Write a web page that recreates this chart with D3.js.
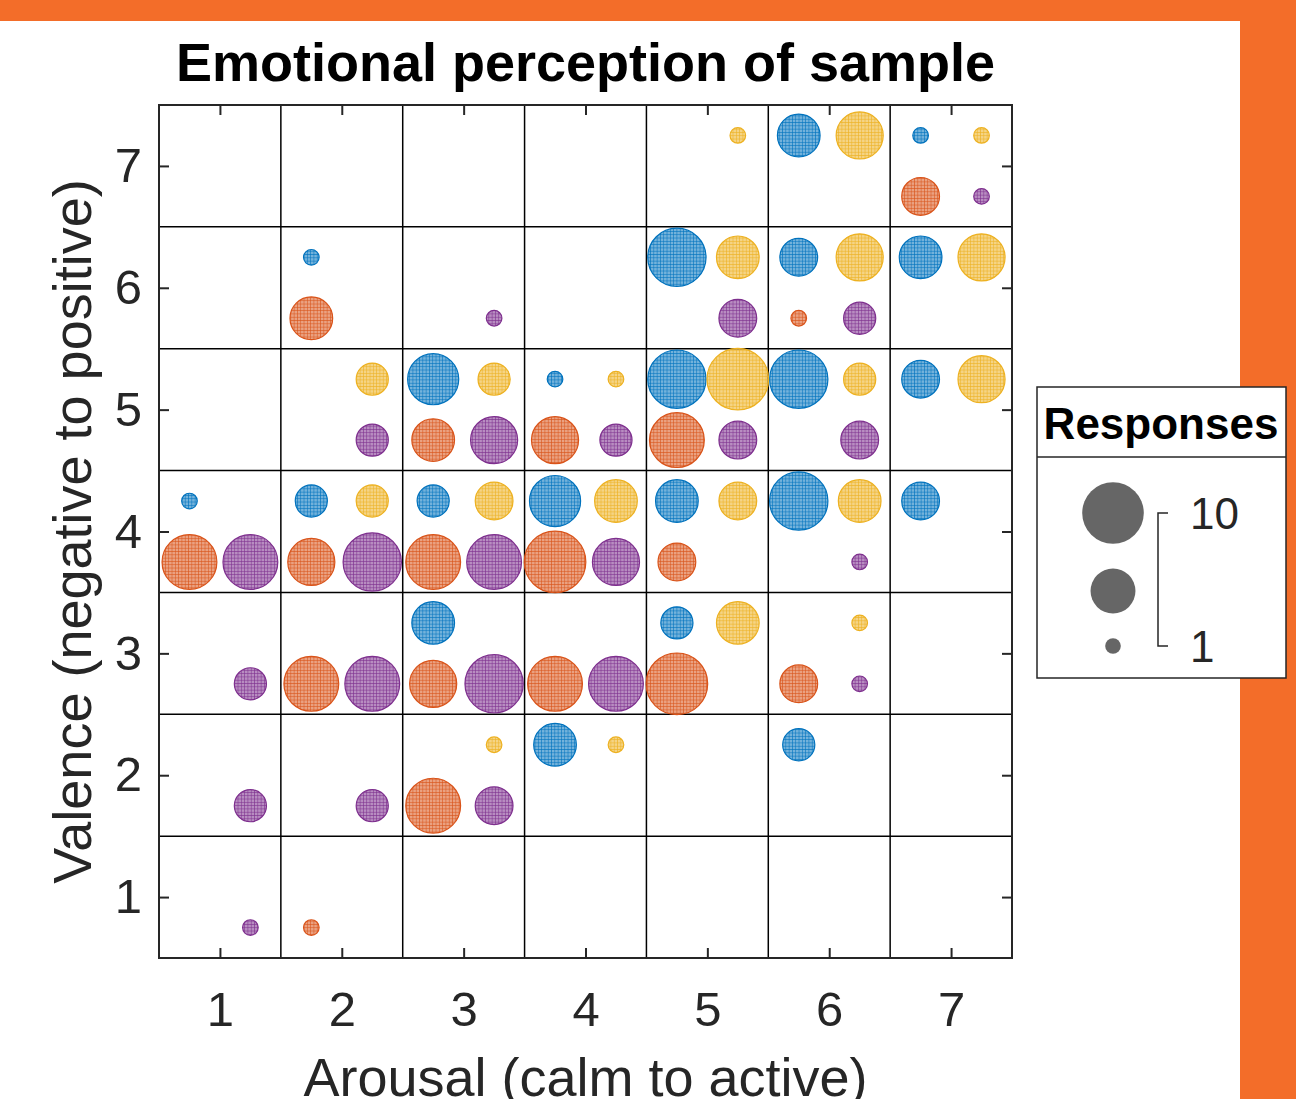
<!DOCTYPE html>
<html>
<head lang="en">
    <meta charset="UTF-8">
    <title>Emotional perception of sample</title>
    <script src="https://cdnjs.cloudflare.com/ajax/libs/d3/7.8.5/d3.min.js" charset="utf-8"></script>
</head>

<body style="margin: 0; background: white">
<div id="chart"></div>
<script>

// arousal / valence categories and tick labels
var arousalTicks = [1, 2, 3, 4, 5, 6, 7];
var valenceTicks = [1, 2, 3, 4, 5, 6, 7];

// each entry: [arousal, valence, responses]
var blueSeries = [
    [6, 7, 5], [7, 7, 1], [2, 6, 1], [5, 6, 9], [6, 6, 4], [7, 6, 5],
    [3, 5, 7], [4, 5, 1], [5, 5, 9], [6, 5, 9], [7, 5, 4],
    [1, 4, 1], [2, 4, 3], [3, 4, 3], [4, 4, 7], [5, 4, 5], [6, 4, 9], [7, 4, 4],
    [3, 3, 5], [5, 3, 3], [4, 2, 5], [6, 2, 3]
];
var yellowSeries = [
    [5, 7, 1], [6, 7, 6], [7, 7, 1], [5, 6, 5], [6, 6, 6], [7, 6, 6],
    [2, 5, 3], [3, 5, 3], [4, 5, 1], [5, 5, 10], [6, 5, 3], [7, 5, 6],
    [2, 4, 3], [3, 4, 4], [4, 4, 5], [5, 4, 4], [6, 4, 5],
    [5, 3, 5], [6, 3, 1], [3, 2, 1], [4, 2, 1]
];
var orangeSeries = [
    [7, 7, 4], [2, 6, 5], [6, 6, 1],
    [3, 5, 5], [4, 5, 6], [5, 5, 8],
    [1, 4, 8], [2, 4, 6], [3, 4, 8], [4, 4, 10], [5, 4, 4],
    [2, 3, 8], [3, 3, 6], [4, 3, 8], [5, 3, 10], [6, 3, 4],
    [3, 2, 8], [2, 1, 1]
];
var purpleSeries = [
    [7, 7, 1], [3, 6, 1], [5, 6, 4], [6, 6, 3],
    [2, 5, 3], [3, 5, 6], [4, 5, 3], [5, 5, 4], [6, 5, 4],
    [1, 4, 8], [2, 4, 9], [3, 4, 8], [4, 4, 6], [6, 4, 1],
    [1, 3, 3], [2, 3, 8], [3, 3, 9], [4, 3, 8], [6, 3, 1],
    [1, 2, 3], [2, 2, 3], [3, 2, 4], [1, 1, 1]
];
var legendValues = [10, 5.5, 1];
var legendLabels = ['10', '1'];

var series = [
    {name: 'blue', color: '#0072BD', dx: -0.25, dy: 0.25, data: blueSeries},
    {name: 'yellow', color: '#EDB120', dx: 0.25, dy: 0.25, data: yellowSeries},
    {name: 'orange', color: '#D95319', dx: -0.25, dy: -0.25, data: orangeSeries},
    {name: 'purple', color: '#7E2F8E', dx: 0.25, dy: -0.25, data: purpleSeries}
];

var W = 1296, H = 1099;
var plot = {left: 159, right: 1012, top: 105, bottom: 958};
var font = '"Liberation Sans", Arial, Helvetica, sans-serif';
var ink = '#262626';

var svg = d3.select('#chart').append('svg')
    .attr('width', W).attr('height', H)
    .style('display', 'block');

// orange frame
svg.append('rect').attr('x', 0).attr('y', 0).attr('width', W).attr('height', H).attr('fill', '#fff');
svg.append('rect').attr('x', 0).attr('y', 0).attr('width', W).attr('height', 21).attr('fill', '#F36D29');
svg.append('rect').attr('x', 1240).attr('y', 0).attr('width', W - 1240).attr('height', H).attr('fill', '#F36D29');

var x = d3.scaleLinear().domain([0.5, 7.5]).range([plot.left, plot.right]);
var y = d3.scaleLinear().domain([0.5, 7.5]).range([plot.bottom, plot.top]);
var r = d3.scaleRadial().domain([1, 10]).range([7.8, 30.8]);

// hatched fill patterns
var defs = svg.append('defs');
series.forEach(function (s) {
    var p = defs.append('pattern')
        .attr('id', 'pat-' + s.name)
        .attr('width', 3.3).attr('height', 3.3)
        .attr('patternUnits', 'userSpaceOnUse');
    p.append('rect').attr('width', 3.3).attr('height', 3.3)
        .attr('fill', s.color).attr('fill-opacity', 0.55);
    p.append('path').attr('d', 'M0 0.4H3.3M0.4 0V3.3')
        .attr('stroke', s.color).attr('stroke-width', 0.7).attr('stroke-opacity', 0.8);
});

// cell grid
var cuts = d3.range(1.5, 7, 1);
svg.append('g').selectAll('line.v').data(cuts).enter().append('line')
    .attr('x1', function (d) { return x(d); }).attr('x2', function (d) { return x(d); })
    .attr('y1', plot.top).attr('y2', plot.bottom)
    .attr('stroke', '#000').attr('stroke-width', 1.5);
svg.append('g').selectAll('line.h').data(cuts).enter().append('line')
    .attr('y1', function (d) { return y(d); }).attr('y2', function (d) { return y(d); })
    .attr('x1', plot.left).attr('x2', plot.right)
    .attr('stroke', '#000').attr('stroke-width', 1.5);

// bubbles
series.forEach(function (s) {
    svg.append('g').selectAll('circle').data(s.data).enter().append('circle')
        .attr('cx', function (d) { return x(d[0] + s.dx); })
        .attr('cy', function (d) { return y(d[1] + s.dy); })
        .attr('r', function (d) { return r(d[2]); })
        .attr('fill', 'url(#pat-' + s.name + ')')
        .attr('stroke', s.color).attr('stroke-width', 1.2);
});

// axes box with inward ticks
var tickLen = 10;
svg.append('rect')
    .attr('x', plot.left).attr('y', plot.top)
    .attr('width', plot.right - plot.left).attr('height', plot.bottom - plot.top)
    .attr('fill', 'none').attr('stroke', ink).attr('stroke-width', 2);

var fmt = d3.format('d');
var axB = d3.axisBottom(x).tickValues(arousalTicks).tickFormat(fmt).tickSizeInner(-tickLen).tickSizeOuter(0).tickPadding(33);
var axT = d3.axisTop(x).tickValues(arousalTicks).tickSizeInner(-tickLen).tickSizeOuter(0).tickFormat('');
var axL = d3.axisLeft(y).tickValues(valenceTicks).tickFormat(fmt).tickSizeInner(-tickLen).tickSizeOuter(0).tickPadding(17);
var axR = d3.axisRight(y).tickValues(valenceTicks).tickSizeInner(-tickLen).tickSizeOuter(0).tickFormat('');

function styleAxis(g) {
    g.select('.domain').remove();
    g.selectAll('.tick line').attr('stroke', ink).attr('stroke-width', 2);
    g.selectAll('.tick text').attr('fill', ink).style('font-family', font).style('font-size', '49px');
}
svg.append('g').attr('transform', 'translate(0,' + plot.bottom + ')').call(axB).call(styleAxis);
svg.append('g').attr('transform', 'translate(0,' + plot.top + ')').call(axT).call(styleAxis);
svg.append('g').attr('transform', 'translate(' + plot.left + ',0)').call(axL).call(styleAxis);
svg.append('g').attr('transform', 'translate(' + plot.right + ',0)').call(axR).call(styleAxis);

// title and labels
svg.append('text').attr('x', (plot.left + plot.right) / 2).attr('y', 81)
    .attr('text-anchor', 'middle').style('font-family', font).style('font-weight', 'bold')
    .style('font-size', '54px').attr('fill', '#000')
    .text('Emotional perception of sample');
svg.append('text').attr('x', (plot.left + plot.right) / 2).attr('y', 1096)
    .attr('text-anchor', 'middle').style('font-family', font)
    .style('font-size', '54px').attr('fill', ink)
    .text('Arousal (calm to active)');
svg.append('text').attr('transform', 'translate(91,' + (plot.top + plot.bottom) / 2 + ') rotate(-90)')
    .attr('text-anchor', 'middle').style('font-family', font)
    .style('font-size', '54px').attr('fill', ink)
    .text('Valence (negative to positive)');

// bubble size legend
var lg = svg.append('g');
lg.append('rect').attr('x', 1037).attr('y', 387).attr('width', 249).attr('height', 291)
    .attr('fill', '#fff').attr('stroke', ink).attr('stroke-width', 1.5);
lg.append('line').attr('x1', 1037).attr('x2', 1286).attr('y1', 457).attr('y2', 457)
    .attr('stroke', ink).attr('stroke-width', 1.5);
lg.append('text').attr('x', 1161).attr('y', 439).attr('text-anchor', 'middle')
    .style('font-family', font).style('font-weight', 'bold').style('font-size', '44px')
    .attr('fill', '#000').text('Responses');

var legendY = [513, 591, 646];
lg.selectAll('circle').data(legendValues).enter().append('circle')
    .attr('cx', 1113).attr('cy', function (d, i) { return legendY[i]; })
    .attr('r', function (d) { return r(d); })
    .attr('fill', '#666666');
lg.append('path')
    .attr('d', 'M1168,' + legendY[0] + 'H1158V' + legendY[2] + 'H1168')
    .attr('fill', 'none').attr('stroke', ink).attr('stroke-width', 1.5);
lg.selectAll('text.lab').data(legendLabels).enter().append('text')
    .attr('class', 'lab')
    .attr('x', 1190).attr('y', function (d, i) { return (i === 0 ? legendY[0] : legendY[2]) + 16; })
    .style('font-family', font).style('font-size', '44px').attr('fill', ink)
    .text(function (d) { return d; });

</script>
</body>
</html>
